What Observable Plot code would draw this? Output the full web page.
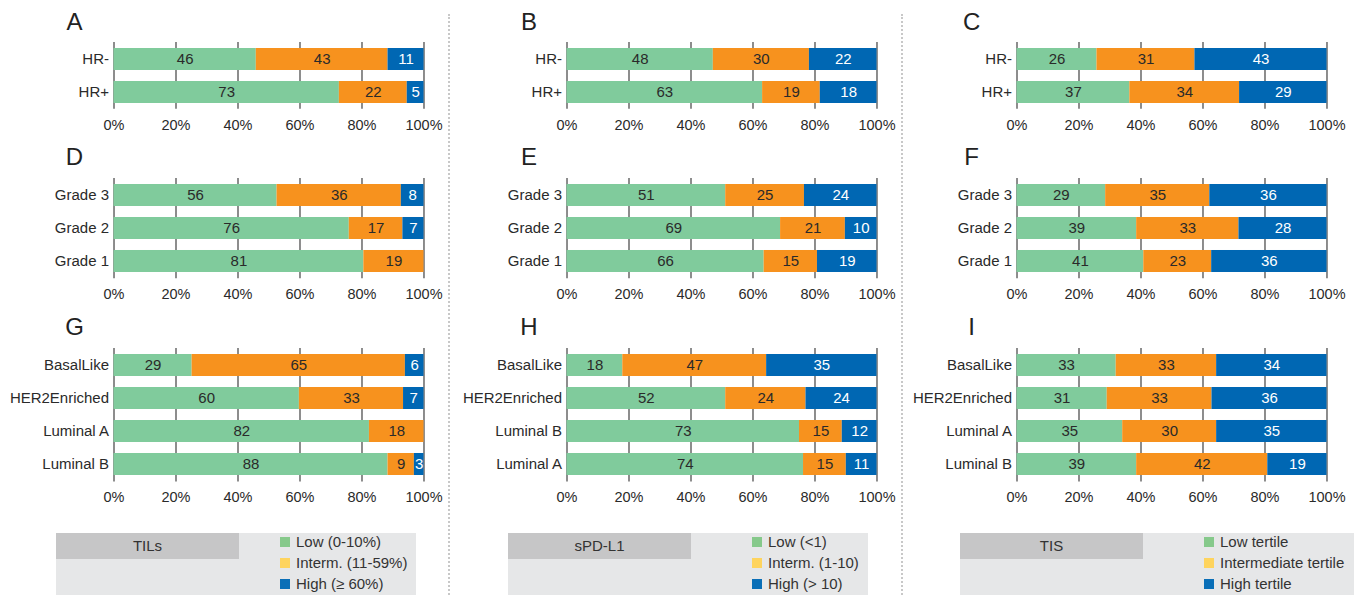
<!DOCTYPE html>
<html>
<head>
<meta charset="utf-8">
<script src="https://cdn.jsdelivr.net/npm/d3@7"></script>
<script src="https://cdn.jsdelivr.net/npm/@observablehq/plot@0.6"></script>
<style>
  html, body { margin: 0; padding: 0; background: #fff; }
  #root { position: relative; width: 1361px; height: 595px; overflow: hidden; font-family: "Liberation Sans", Arial, Helvetica, sans-serif; color: #222; }
  .panel { position: absolute; }
  .letter { position: absolute; font-size: 24px; line-height: 1; width: 40px; text-align: center; color: #222; }
  .sep { position: absolute; width: 0; border-left: 2px dotted #c8c8c8; }
  .lgbox { position: absolute; background: #e6e7e8; }
  .lghead { position: absolute; background: #c6c6c7; font-size: 15px; color: #333; text-align: center; }
  .lgitem { position: absolute; font-size: 15px; line-height: 1; color: #333; white-space: nowrap; }
  .sw { position: absolute; width: 10px; height: 10px; }
</style>
</head>
<body>
<div id="root"></div>
<script>
// ---------- data ----------
const levels = ["low", "mid", "high"];
const xTicks = [0, 20, 40, 60, 80, 100];

const catsHR = ["HR-", "HR+"];
const catsGrade = ["Grade 3", "Grade 2", "Grade 1"];
const catsSubTILs = ["BasalLike", "HER2Enriched", "Luminal A", "Luminal B"];
const catsSubSPD = ["BasalLike", "HER2Enriched", "Luminal B", "Luminal A"];
const catsSubTIS = ["BasalLike", "HER2Enriched", "Luminal A", "Luminal B"];

// bar lengths (% of row) as drawn, and printed labels
const sharesA = [[45.9, 42.5, 11.6], [72.7, 21.9, 5.4]];
const labelsA = [[46, 43, 11], [73, 22, 5]];
const sharesB = [[47.2, 31.0, 21.8], [63.1, 18.6, 18.3]];
const labelsB = [[48, 30, 22], [63, 19, 18]];
const sharesC = [[25.8, 31.6, 42.6], [36.4, 35.4, 28.2]];
const labelsC = [[26, 31, 43], [37, 34, 29]];
const sharesD = [[52.6, 40.1, 7.3], [75.9, 17.3, 6.8], [80.6, 19.4, 0]];
const labelsD = [[56, 36, 8], [76, 17, 7], [81, 19, null]];
const sharesE = [[51.2, 25.4, 23.4], [68.9, 20.9, 10.2], [63.6, 17.2, 19.2]];
const labelsE = [[51, 25, 24], [69, 21, 10], [66, 15, 19]];
const sharesF = [[28.6, 33.6, 37.8], [38.6, 33.0, 28.4], [40.9, 21.9, 37.2]];
const labelsF = [[29, 35, 36], [39, 33, 28], [41, 23, 36]];
const sharesG = [[25.2, 68.8, 6.0], [59.8, 33.6, 6.6], [82.4, 17.6, 0], [88.4, 8.5, 3.1]];
const labelsG = [[29, 65, 6], [60, 33, 7], [82, 18, null], [88, 9, 3]];
const sharesH = [[18.0, 46.4, 35.6], [51.2, 25.9, 22.9], [75.0, 13.8, 11.2], [76.3, 13.8, 9.9]];
const labelsH = [[18, 47, 35], [52, 24, 24], [73, 15, 12], [74, 15, 11]];
const sharesI = [[32.0, 32.4, 35.6], [29.1, 33.8, 37.1], [34.1, 30.3, 35.6], [38.6, 42.3, 19.1]];
const labelsI = [[33, 33, 34], [31, 33, 36], [35, 30, 35], [39, 42, 19]];

const legendTitles = ["TILs", "sPD-L1", "TIS"];
const legendLabels = [
  ["Low (0-10%)", "Interm. (11-59%)", "High (\u2265 60%)"],
  ["Low (<1)", "Interm. (1-10)", "High (> 10)"],
  ["Low tertile", "Intermediate tertile", "High tertile"]
];

// ---------- styling ----------
const barColor = {low: "#80cb9c", mid: "#f7921e", high: "#0067b3"};
const legendColor = ["#86c98b", "#fed45e", "#0a6fb7"];
const fontFamily = '"Liberation Sans", Arial, Helvetica, sans-serif';
const colLeft = [0, 452.5, 903.2];
const letterCenter = [74.5, 529, 971.7];
const rowFrameTop = [42, 177.5, 348.3];
const rowLetterTop = [9.7, 144.7, 314.7];
const STEP = 33.4;

const root = document.getElementById("root");

function makePanel(letter, cats, shares, labels, col, row) {
  const rows = [];
  cats.forEach((c, i) => levels.forEach((lv, k) => {
    rows.push({cat: c, level: lv, share: shares[i][k], label: labels[i][k]});
  }));
  const n = cats.length;
  const chart = Plot.plot({
    width: 450,
    height: n * STEP + 30,
    marginTop: 0, marginBottom: 30, marginLeft: 113.5, marginRight: 26.5,
    x: {domain: [0, 100]},
    y: {domain: cats, paddingInner: 0.341, paddingOuter: 0.1705},
    color: {type: "identity"},
    style: {fontFamily, background: "transparent", color: "#2a2a2a", overflow: "visible"},
    marks: [
      Plot.ruleX(xTicks, {stroke: "#505050", strokeWidth: 1.3}),
      Plot.barX(rows, Plot.stackX({x: "share", y: "cat", fill: d => barColor[d.level]})),
      Plot.text(rows, Plot.stackX({
        x: "share", y: "cat",
        text: d => (d.label == null ? null : String(d.label)),
        fill: d => (d.level === "high" ? "#ffffff" : "#2a2a2a"),
        fontSize: 15
      })),
      Plot.axisX({ticks: xTicks, tickFormat: d => d + "%", tickSize: 0, tickPadding: 10, fontSize: 14.5, fill: "#2a2a2a", label: null}),
      Plot.axisY({tickSize: 0, tickPadding: 5, fontSize: 15, fill: "#2a2a2a", label: null})
    ]
  });
  const wrap = document.createElement("div");
  wrap.className = "panel";
  wrap.style.left = colLeft[col] + "px";
  wrap.style.top = rowFrameTop[row] + "px";
  wrap.appendChild(chart);
  root.appendChild(wrap);

  const L = document.createElement("div");
  L.className = "letter";
  L.textContent = letter;
  L.style.left = (letterCenter[col] - 20) + "px";
  L.style.top = rowLetterTop[row] + "px";
  root.appendChild(L);
}

makePanel("A", catsHR, sharesA, labelsA, 0, 0);
makePanel("B", catsHR, sharesB, labelsB, 1, 0);
makePanel("C", catsHR, sharesC, labelsC, 2, 0);
makePanel("D", catsGrade, sharesD, labelsD, 0, 1);
makePanel("E", catsGrade, sharesE, labelsE, 1, 1);
makePanel("F", catsGrade, sharesF, labelsF, 2, 1);
makePanel("G", catsSubTILs, sharesG, labelsG, 0, 2);
makePanel("H", catsSubSPD, sharesH, labelsH, 1, 2);
makePanel("I", catsSubTIS, sharesI, labelsI, 2, 2);

// separators
[448, 901].forEach(x => {
  const s = document.createElement("div");
  s.className = "sep";
  s.style.left = x + "px";
  s.style.top = "14px";
  s.style.height = "581px";
  root.appendChild(s);
});

// legends
const lgBoxLeft = [56, 508, 960];
const lgBoxWidth = [360, 360, 394];
const lgSwatchLeft = [280, 752, 1204];
legendTitles.forEach((t, i) => {
  const box = document.createElement("div");
  box.className = "lgbox";
  box.style.left = lgBoxLeft[i] + "px";
  box.style.top = "533px";
  box.style.width = lgBoxWidth[i] + "px";
  box.style.height = "62px";
  root.appendChild(box);
  const head = document.createElement("div");
  head.className = "lghead";
  head.style.left = lgBoxLeft[i] + "px";
  head.style.top = "533px";
  head.style.width = "183px";
  head.style.height = "26px";
  head.style.lineHeight = "26px";
  head.textContent = t;
  root.appendChild(head);
  legendLabels[i].forEach((lab, k) => {
    const cy = 542 + k * 21;
    const sw = document.createElement("div");
    sw.className = "sw";
    sw.style.left = lgSwatchLeft[i] + "px";
    sw.style.top = (cy - 5) + "px";
    sw.style.background = legendColor[k];
    root.appendChild(sw);
    const tx = document.createElement("div");
    tx.className = "lgitem";
    tx.style.left = (lgSwatchLeft[i] + 16) + "px";
    tx.style.top = (cy - 8) + "px";
    tx.textContent = lab;
    root.appendChild(tx);
  });
});
</script>
</body>
</html>
